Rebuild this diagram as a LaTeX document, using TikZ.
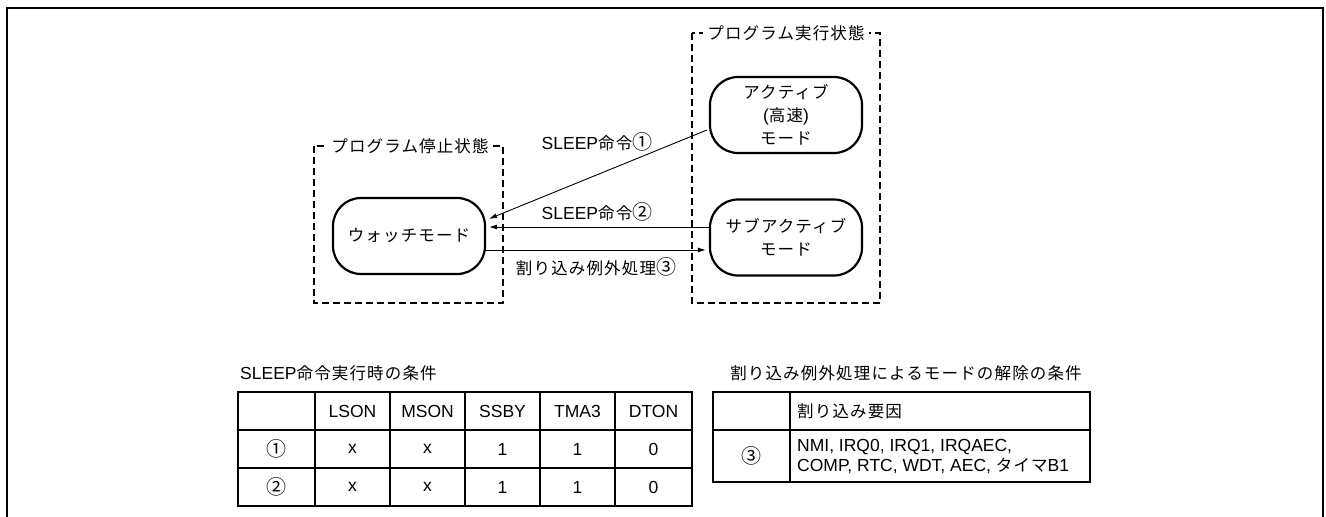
\documentclass[tikz,border=0pt]{standalone}
\usepackage{fontspec}
\setmainfont{Liberation Sans}
\newfontfamily\jp[LetterSpace=7]{Noto Sans CJK JP}
\newfontfamily\jpc{Noto Sans CJK JP}
\usetikzlibrary{arrows.meta,calc}
\newcommand\J[1]{{\jp\fontsize{16.5}{23}\selectfont #1}}
\newcommand\Cn[1]{{\jpc\fontsize{20}{23}\selectfont #1}}
\begin{document}
\begin{tikzpicture}[x=1pt,y=-1pt,
  txt/.style={font=\fontsize{17.5}{23}\selectfont, inner sep=0pt, align=center},
  mode/.style={draw, line width=2.2pt, rounded corners=28pt, minimum width=152pt, minimum height=76pt, txt},
  state/.style={draw, line width=2.5pt, dash pattern=on 7pt off 4pt},
  ttl/.style={txt, fill=white, inner xsep=4pt, inner ysep=2pt},
  arr/.style={line width=0.9pt, -{Latex[length=8pt,width=5pt]}, shorten >=3pt},
  gridline/.style={line width=1.8pt},
]
\useasboundingbox (0,0) rectangle (1326,517);
% outer frame
\draw[line width=2.5pt] (7,520) -- (7,8) -- (1323,8) -- (1323,520);

% state boxes
\draw[state] (314,146) rectangle (503,303);
\draw[state] (692,33) rectangle (880,303);
\node[ttl] (stop) at (410,146) {\J{プログラム停止状態}};
\node[ttl] (run) at (786,33) {\J{プログラム実行状態}};

% modes
\node[mode] (watch) at (409,236) {\J{ウォッチモード}};
\node[mode] (act) at (786,115) {\J{アクティブ}\\(\J{高速})\\\J{モード}};
\node[mode] (sub) at (786,237.5) {\J{サブアクティブ}\\\J{モード}};

% connectors
\coordinate (y2) at (0,227);
\coordinate (y3) at (0,250);
\draw[arr] ($(act.west)+(-2,15)$) -- ($(watch.east)+(0,-16)$);
\draw[arr] (sub.west |- y2) -- (watch.east |- y2);
\draw[arr] (watch.east |- y3) -- (sub.west |- y3);
\node[txt] (l1) at (597,142) {SLEEP\J{命令}\Cn{①}};
\node[txt] (l2) at (597,212) {SLEEP\J{命令}\Cn{②}};
\node[txt] (l3) at (596,267) {\J{割り込み例外処理}\Cn{③}};

% left table
\node[txt, anchor=west] (t1) at (240,373) {SLEEP\J{命令実行時の条件}};
\draw[gridline] (238,392) rectangle (692,506);
\foreach \y in {430,468} \draw[gridline] (238,\y) -- (692,\y);
\foreach \x in {315,390,465,540,615} \draw[gridline] (\x,392) -- (\x,506);
\node[txt] (h1) at (352.5,411) {LSON};
\node[txt] (h2) at (427.5,411) {MSON};
\node[txt] (h3) at (502.5,411) {SSBY};
\node[txt] (h4) at (577.5,411) {TMA3};
\node[txt] (h5) at (653.5,411) {DTON};
\node[txt] (r1) at (276.5,449) {\Cn{①}};
\node[txt] (r1a) at (352.5,449) {x};
\node[txt] (r1b) at (427.5,449) {x};
\node[txt] (r1c) at (502.5,449) {1};
\node[txt] (r1d) at (577.5,449) {1};
\node[txt] (r1e) at (653.5,449) {0};
\node[txt] (r2) at (276.5,487) {\Cn{②}};
\node[txt] (r2a) at (352.5,487) {x};
\node[txt] (r2b) at (427.5,487) {x};
\node[txt] (r2c) at (502.5,487) {1};
\node[txt] (r2d) at (577.5,487) {1};
\node[txt] (r2e) at (653.5,487) {0};

% right table
\node[txt] (t2) at (906,373) {\J{割り込み例外処理によるモードの解除の条件}};
\draw[gridline] (713,392) rectangle (1090,482);
\draw[gridline] (713,430) -- (1090,430);
\draw[gridline] (790,392) -- (790,482);
\node[txt, anchor=west] (k1) at (797,411) {\J{割り込み要因}};
\node[txt] (k2) at (751.5,456) {\Cn{③}};
\node[txt, anchor=west, align=left, font=\fontsize{17.5}{20}\selectfont] (k3) at (797,457) {NMI, IRQ0, IRQ1, IRQAEC,\\COMP, RTC, WDT, AEC, \J{タイマ}B1};
\end{tikzpicture}
\end{document}
